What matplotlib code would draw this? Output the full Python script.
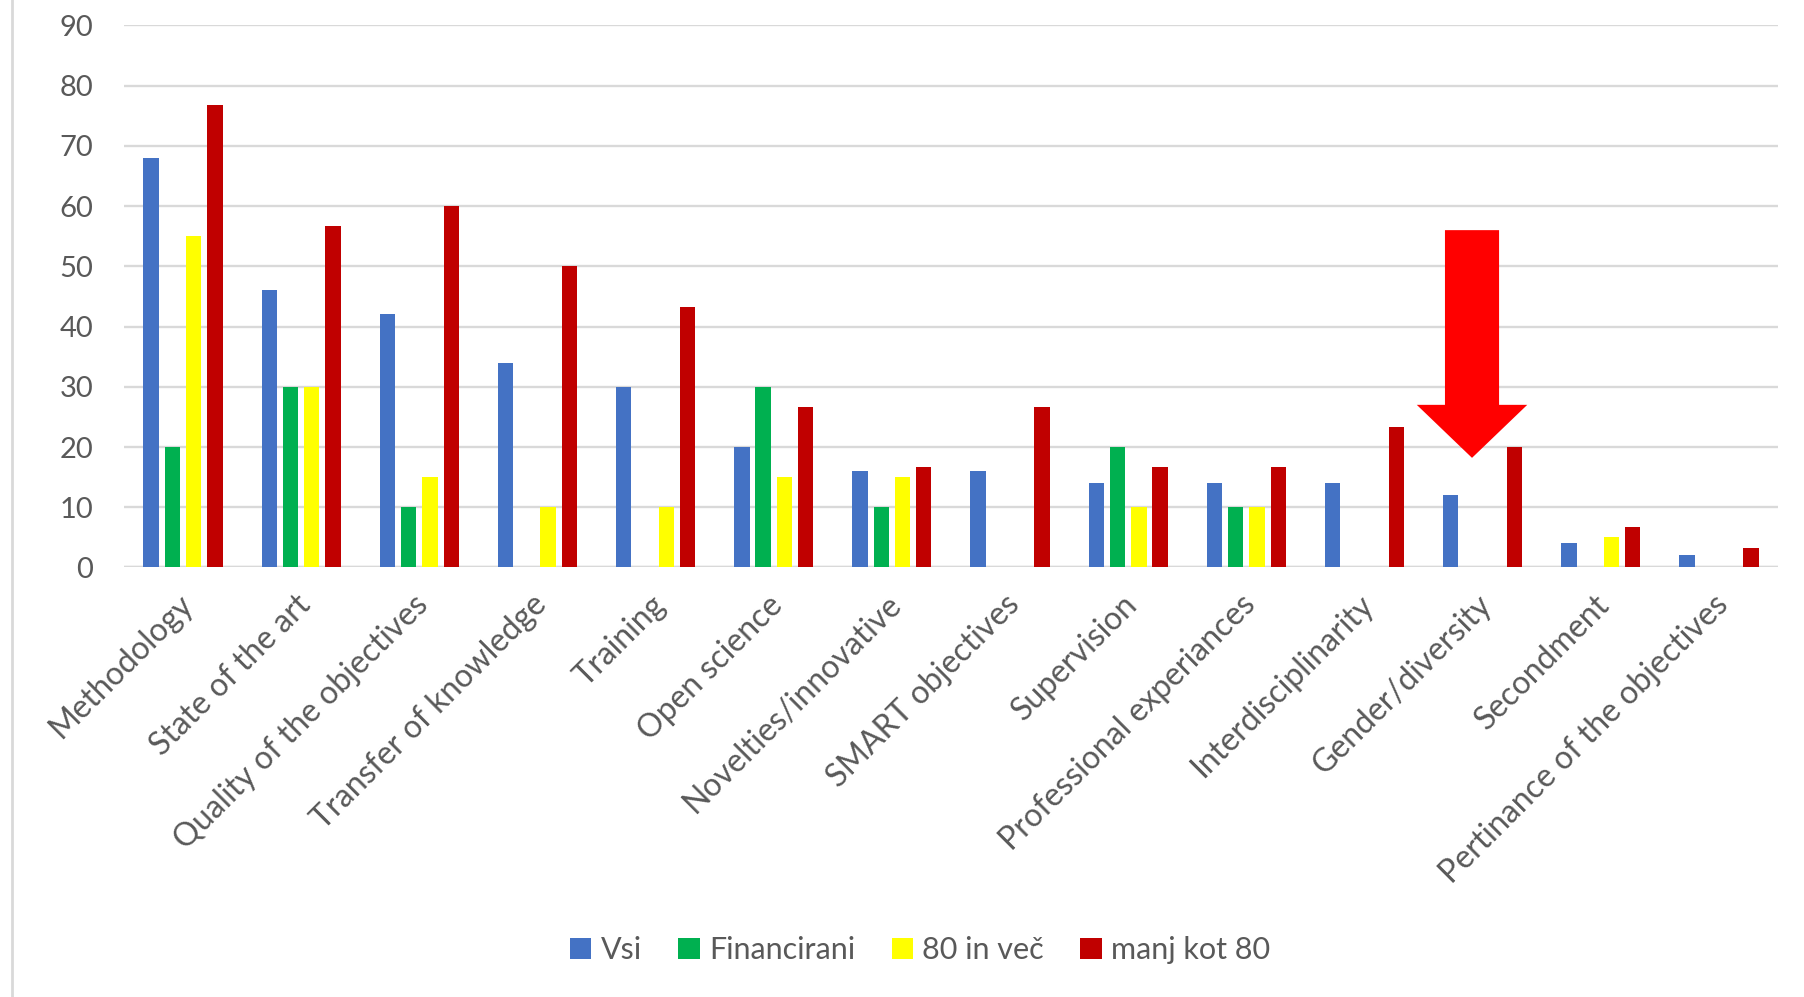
import numpy as np
import matplotlib
matplotlib.use("Agg")
import matplotlib.pyplot as plt
from matplotlib.patches import FancyArrow
from matplotlib.lines import Line2D

plt.rcParams['font.family'] = ['Lato', 'DejaVu Sans']

categories = ["Methodology", "State of the art", "Quality of the objectives",
              "Transfer of knowledge", "Training", "Open science",
              "Novelties/innovative", "SMART objectives", "Supervision",
              "Professional experiances", "Interdisciplinarity",
              "Gender/diversity", "Secondment", "Pertinance of the objectives"]

series_names = ["Vsi", "Financirani", "80 in več", "manj kot 80"]
vsi = [68, 46, 42, 34, 30, 20, 16, 16, 14, 14, 14, 12, 4, 2]
financirani = [20, 30, 10, 0, 0, 30, 10, 0, 20, 10, 0, 0, 0, 0]
vec80 = [55, 30, 15, 10, 10, 15, 15, 0, 10, 10, 0, 0, 5, 0]
manj80 = [76.7, 56.7, 60, 50, 43.3, 26.7, 16.7, 26.7, 16.7, 16.7, 23.3, 20, 6.7, 3.3]

colors = ["#4472C4", "#00B050", "#FFFF00", "#C00000"]
text_col = "#595959"
grid_col = "#D9D9D9"

fig = plt.figure(figsize=(18.04, 9.97), dpi=100)
ax = fig.add_axes([0.0687, 0.4308, 0.9169, 0.5438])

x = np.arange(len(categories))
step = 0.18
width = 0.13
for k, (name, vals) in enumerate(zip(series_names, [vsi, financirani, vec80, manj80])):
    ax.bar(x + (k - 1.5) * step, vals, width, color=colors[k], label=name, zorder=3)

ax.set_xlim(-0.5, len(categories) - 0.5)
ax.set_ylim(0, 90)
ax.set_yticks(np.arange(0, 91, 10))
ax.yaxis.grid(True, color=grid_col, linewidth=1.7, zorder=0)
ax.axhline(0, color=grid_col, linewidth=1.7, zorder=2)
for s in ax.spines.values():
    s.set_visible(False)
ax.tick_params(axis='y', length=0, pad=22, labelsize=21, labelcolor=text_col)
ax.tick_params(axis='x', length=0, pad=16, labelsize=23, labelcolor=text_col)
ax.set_xticks(x)
ax.set_xticklabels(categories, rotation=45, ha='right', va='top', rotation_mode='anchor')
for lbl in ax.get_xticklabels():
    lbl.set_x(lbl.get_position()[0])
# nudge labels a touch left like the original
import matplotlib.transforms as mtrans
offset = mtrans.ScaledTranslation(-6 / 100, 0, fig.dpi_scale_trans)
for lbl in ax.get_xticklabels():
    lbl.set_transform(lbl.get_transform() + offset)

# red arrow pointing at Gender/diversity
ax.add_patch(FancyArrow(10.91, 56, 0, -37.8, width=0.458, head_width=0.935,
                        head_length=8.8, length_includes_head=True,
                        color="#FF0000", linewidth=0, zorder=4))

# chart frame on the left
fig.add_artist(Line2D([0.0067, 0.0067], [0, 1], color=grid_col, linewidth=2))

fig.legend(loc='center', bbox_to_anchor=(0.51, 0.047), ncol=4, frameon=False,
           fontsize=22, labelcolor=text_col, handlelength=0.7, handleheight=0.7,
           handletextpad=0.3, columnspacing=1.2)

fig.savefig("out.png", dpi=100)
